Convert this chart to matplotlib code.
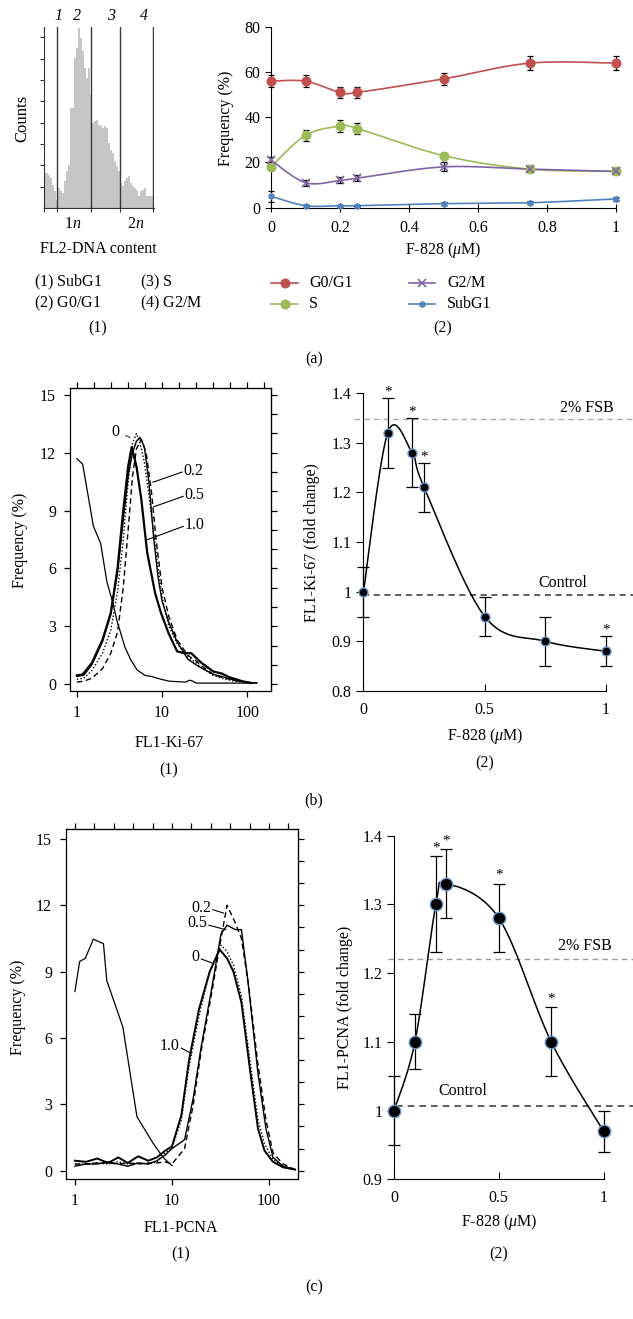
import numpy as np
import matplotlib
matplotlib.use("Agg")
import matplotlib.pyplot as plt
from matplotlib.lines import Line2D

plt.rcParams['font.family'] = ['Liberation Serif', 'DejaVu Serif']
plt.rcParams['mathtext.fontset'] = 'custom'
plt.rcParams['mathtext.rm'] = 'Liberation Serif'
plt.rcParams['mathtext.it'] = 'Liberation Serif:italic'
plt.rcParams['font.size'] = 11.5

# ---------------- data ----------------
# (a)(1) DNA histogram (bin counts, arbitrary units)
hist_counts = [104, 104, 100, 90, 70, 50, 25, 60, 50, 45, 80, 110, 130, 300, 300, 450,
               480, 540, 510, 470, 420, 390, 420, 340, 255, 260, 265, 250, 245, 240,
               245, 240, 195, 175, 165, 140, 125, 110, 75, 65, 80, 90, 95, 75, 65, 60,
               55, 35, 50, 55, 60, 35, 35, 35, 35]
gate_edges = [6.33, 23.3, 38.0, 54.7]
gate_names = ['1', '2', '3', '4']

# (a)(2) cell cycle distribution
conc = [0, 0.1, 0.2, 0.25, 0.5, 0.75, 1.0]
g0g1 = [56, 56, 51, 51, 57, 64, 64]
g0g1_err = [2.8, 2.7, 2.6, 2.6, 2.8, 3.0, 3.0]
s_phase = [18, 32, 36, 35, 23, 17, 16]
s_err = [1.5, 2.4, 2.6, 2.5, 1.0, 1.0, 1.0]
g2m = [21, 11, 12, 13, 18, 17, 16]
g2m_err = [1.5, 1.4, 1.3, 1.3, 2.0, 1.0, 1.0]
subg1 = [5, 0.8, 0.8, 0.8, 1.7, 2.1, 3.8]
subg1_err = [2.5, 0.4, 0.4, 0.3, 0.6, 0.7, 1.0]

# (b)(1) Ki-67 histograms
ki_bg_x = [1, 1.17, 1.56, 1.9, 2.25, 2.65, 2.95, 3.67, 4.3, 5.1, 6.3, 7.4, 9.7, 12.1, 18.9, 21, 23, 25, 40, 60, 90, 120]
ki_bg_y = [11.7, 11.4, 8.2, 7.3, 5.3, 4.2, 3.3, 1.9, 1.25, 0.73, 0.45, 0.4, 0.25, 0.15, 0.1, 0.2, 0.15, 0.05, 0.05, 0.05, 0.05, 0.05]
ki_10_x = [1, 1.17, 1.5, 2.0, 2.5, 3.0, 3.5, 4.0, 4.4, 5.0, 5.7, 6.7, 8.3, 9.7, 12, 15, 18, 22, 29, 40, 50, 62, 87, 110]
ki_10_y = [0.45, 0.5, 1.1, 2.3, 3.7, 6.0, 9.0, 11.3, 12.3, 11.3, 9.6, 6.8, 4.7, 3.7, 2.6, 1.7, 1.6, 1.6, 1.1, 0.65, 0.55, 0.35, 0.15, 0.05]
ki_05_x = [1, 1.2, 1.5, 2, 2.5, 3, 3.5, 4, 4.5, 5, 5.5, 6.2, 7, 8, 9, 10, 12, 15, 20, 25, 30, 40, 50, 70, 100, 130]
ki_05_y = [0.4, 0.45, 1.0, 2.2, 3.6, 5.8, 8.5, 10.8, 12.0, 12.6, 12.8, 12.3, 10.5, 7.5, 5.5, 4.3, 3.2, 2.2, 1.3, 1.0, 0.8, 0.5, 0.4, 0.2, 0.1, 0.05]
ki_00_x = [1, 1.2, 1.5, 2, 2.5, 3, 3.5, 4, 4.5, 5, 5.5, 6.2, 7, 8, 9, 10, 12, 15, 20, 25, 30, 40, 50, 70, 100, 130]
ki_00_y = [0.25, 0.3, 0.7, 1.6, 2.8, 4.8, 7.5, 10.5, 12.5, 13.0, 12.5, 11.5, 9.8, 7.8, 6.0, 4.5, 3.0, 2.1, 1.4, 1.1, 0.8, 0.45, 0.3, 0.15, 0.08, 0.05]
ki_02_x = [1, 1.2, 1.5, 2, 2.5, 3, 3.5, 4, 4.5, 5, 5.7, 6.5, 7.5, 8.5, 10, 12, 15, 20, 25, 30, 40, 50, 70, 100, 130]
ki_02_y = [0.1, 0.15, 0.3, 0.8, 1.6, 2.7, 5.0, 8.0, 10.8, 12.2, 12.7, 12.0, 10.0, 7.5, 5.0, 3.5, 2.3, 1.5, 1.2, 0.9, 0.5, 0.35, 0.2, 0.1, 0.05]

# (b)(2) Ki-67 fold change
ki_fold = [1.0, 1.32, 1.28, 1.21, 0.95, 0.90, 0.88]
ki_fold_err = [0.05, 0.07, 0.07, 0.05, 0.04, 0.05, 0.03]
ki_sig = [False, True, True, True, False, False, True]
ki_fsb = 1.348
ki_ctrl = 0.993

# (c)(1) PCNA histograms
pc_bg_x = [1, 1.12, 1.28, 1.55, 1.97, 2.13, 3.12, 4.36, 6.4, 8.1, 10]
pc_bg_y = [8.1, 9.46, 9.6, 10.47, 10.26, 8.6, 6.5, 2.44, 1.24, 0.6, 0.23]
pc_10_x = [1, 1.3, 1.7, 2.2, 2.8, 3.5, 4.5, 5.7, 7, 8.5, 10, 12.5, 15, 19, 24.5, 31, 37, 43, 52, 64, 77, 90, 110, 140, 185]
pc_10_y = [0.45, 0.4, 0.55, 0.35, 0.6, 0.35, 0.65, 0.45, 0.6, 0.9, 1.1, 2.5, 5.0, 7.3, 9.0, 10.0, 9.6, 9.0, 7.6, 4.5, 1.9, 0.9, 0.4, 0.15, 0.05]
pc_00_x = [1, 1.3, 1.7, 2.2, 2.8, 3.5, 4.5, 5.7, 7, 8.5, 10, 12.5, 15, 19, 24.5, 32, 37, 43, 52, 64, 77, 90, 110, 140, 185]
pc_00_y = [0.3, 0.3, 0.35, 0.3, 0.4, 0.3, 0.35, 0.3, 0.4, 0.8, 1.0, 2.3, 4.7, 7.0, 9.0, 10.2, 9.9, 9.3, 7.9, 4.9, 2.3, 1.2, 0.5, 0.2, 0.05]
pc_05_x = [1, 1.3, 1.7, 2.2, 2.8, 3.5, 4.5, 5.7, 7, 8.5, 10, 13.5, 16.6, 20, 25.6, 32, 37, 45, 52, 60.6, 77, 93, 110, 140, 185]
pc_05_y = [0.2, 0.3, 0.3, 0.4, 0.3, 0.2, 0.35, 0.3, 0.45, 0.7, 1.0, 1.4, 3.3, 5.6, 8.2, 10.7, 11.1, 10.9, 10.9, 8.6, 4.4, 1.9, 0.6, 0.2, 0.05]
pc_02_x = [1, 1.3, 1.7, 2.2, 2.8, 3.5, 4.5, 5.7, 7, 8.5, 10, 13.5, 16.6, 20, 25.6, 32, 37, 45, 52, 62, 77, 93, 110, 140, 185]
pc_02_y = [0.3, 0.3, 0.35, 0.35, 0.3, 0.35, 0.3, 0.35, 0.35, 0.4, 0.3, 1.0, 3.0, 5.4, 8.0, 10.5, 12.0, 11.2, 10.5, 8.3, 4.8, 2.3, 0.8, 0.3, 0.05]

# (c)(2) PCNA fold change
pc_fold = [1.0, 1.1, 1.3, 1.33, 1.28, 1.1, 0.97]
pc_fold_err = [0.05, 0.04, 0.07, 0.05, 0.05, 0.05, 0.03]
pc_sig = [False, False, True, True, True, True, False]
pc_fsb = 1.22
pc_ctrl = 1.007

# ---------------- helpers ----------------
W, H = 633, 1319
fig = plt.figure(figsize=(W / 100, H / 100), dpi=100)


def axes_px(l, r, t, b):
    return fig.add_axes([l / W, 1 - b / H, (r - l) / W, (b - t) / H])


def ftext(x, y, s, **kw):
    kw.setdefault('ha', 'center')
    kw.setdefault('va', 'center')
    fig.text(x / W, 1 - y / H, s, **kw)


def smooth(x, y, n=30):
    P = np.column_stack([x, y]).astype(float)
    P = np.vstack([P[0], P, P[-1]])
    out = []
    t = np.linspace(0, 1, n)[:, None]
    for i in range(1, len(P) - 2):
        p0, p1, p2, p3 = P[i - 1], P[i], P[i + 1], P[i + 2]
        seg = 0.5 * ((2 * p1) + (-p0 + p2) * t + (2 * p0 - 5 * p1 + 4 * p2 - p3) * t ** 2
                     + (-p0 + 3 * p1 - 3 * p2 + p3) * t ** 3)
        out.append(seg if i == 1 else seg[1:])
    out = np.vstack(out)
    return out[:, 0], out[:, 1]


# ================= (a)(1) histogram =================
axh = axes_px(44, 154, 27, 208)
bins = np.arange(len(hist_counts))
axh.bar(bins + 0.5, hist_counts, width=1.0, color='#c6c6c6', edgecolor='none')
for g in gate_edges:
    axh.axvline(g, color='#3a3a3a', lw=1.0)
axh.set_xlim(0, 55)
axh.set_ylim(0, 543)
for sp in ['top', 'right']:
    axh.spines[sp].set_visible(False)
axh.spines['left'].set_color('#333333')
axh.spines['bottom'].set_color('#333333')
axh.set_yticks(np.arange(64, 543, 64))
axh.set_yticklabels([])
axh.tick_params(axis='y', direction='out', length=3, color='#333333')
axh.set_xticks([0] + gate_edges)
axh.set_xticklabels([])
axh.tick_params(axis='x', direction='inout', length=6, color='#333333')
for lab, px in zip(gate_names, [58, 77, 111, 144]):
    ftext(px, 16, lab, style='italic')
ftext(22, 118, 'Counts', rotation=90, fontsize=12)
ftext(73, 224, r'1$n$')
ftext(136, 224, r'2$n$')
ftext(98, 249, 'FL2-DNA content')
ftext(34, 282, r'($\mathit{1}$) SubG1', ha='left')
ftext(140, 282, r'($\mathit{3}$) S', ha='left')
ftext(34, 303, r'($\mathit{2}$) G0/G1', ha='left')
ftext(140, 303, r'($\mathit{4}$) G2/M', ha='left')
ftext(98, 328, '(1)')

# ================= (a)(2) cell cycle =================
axa = axes_px(271, 616, 27, 207.5)
series = [
    ('G0/G1', g0g1, g0g1_err, '#c0504d', 'o', 6.0, 1.0),
    ('S', s_phase, s_err, '#9bbb59', 'o', 6.0, 1.0),
    ('G2/M', g2m, g2m_err, '#8064a2', 'x', 5.5, 1.0),
    ('SubG1', subg1, subg1_err, '#4f81bd', (6, 2, 0), 4.5, 1.0),
]
for name, vals, err, col, mk, ms, mew in series:
    sx, sy = smooth(conc, vals)
    axa.plot(sx, sy, color=col, lw=1.2, clip_on=False, zorder=2)
    axa.errorbar(conc, vals, yerr=err, fmt='none', ecolor='black', elinewidth=0.9,
                 capsize=2.5, capthick=0.9, clip_on=False, zorder=3)
    axa.plot(conc, vals, linestyle='none', marker=mk, ms=ms, color=col,
             mec=col, mew=1.2, clip_on=False, zorder=4)
axa.set_xlim(0, 1)
axa.set_ylim(0, 80)
for sp in ['top', 'right']:
    axa.spines[sp].set_visible(False)
axa.set_xticks([0, 0.2, 0.4, 0.6, 0.8, 1.0])
axa.set_xticklabels(['0', '0.2', '0.4', '0.6', '0.8', '1'])
axa.set_yticks([0, 20, 40, 60, 80])
axa.tick_params(axis='x', direction='inout', length=6, pad=6)
axa.tick_params(axis='y', direction='out', length=4)
ftext(226, 118, 'Frequency (%)', rotation=90)
ftext(443, 250, r'F-828 ($\mu$M)')
ftext(443, 328, '(2)')
leg_pos = [(271, 298, 283, 309), (271, 298, 304, 309), (409, 435, 283, 447), (409, 435, 304, 447)]
for (name, vals, err, col, mk, ms, mew), (x1, x2, yy, xt) in zip(series, leg_pos):
    fig.add_artist(Line2D([x1 / W, x2 / W], [1 - yy / H, 1 - yy / H], color=col, lw=1.2,
                          transform=fig.transFigure))
    fig.add_artist(Line2D([(x1 + x2) / 2 / W], [1 - yy / H], color=col, marker=mk, ms=ms,
                          mew=1.2, linestyle='none', transform=fig.transFigure))
    ftext(xt, yy, name, ha='left')
ftext(314, 359, '(a)')


# ================= histogram panels (b1, c1) =================
def hist_panel(ax, xlim, ylim):
    ax.set_xscale('log')
    ax.set_xlim(*xlim)
    ax.set_ylim(*ylim)
    ax.set_xticks([1, 10, 100])
    ax.set_xticklabels(['1', '10', '100'])
    ax.xaxis.set_minor_locator(matplotlib.ticker.NullLocator())
    ax.set_yticks([0, 3, 6, 9, 12, 15])
    ax.tick_params(axis='both', direction='out', length=4, width=0.9, pad=6)
    sx = ax.secondary_xaxis('top')
    sx.set_xticks(10 ** np.arange(0, 2.3, 0.2))
    sx.set_xticklabels([])
    sx.tick_params(direction='out', length=4, width=0.9)
    sx.xaxis.set_minor_locator(matplotlib.ticker.NullLocator())
    sy = ax.secondary_yaxis('right')
    sy.set_yticks(np.arange(0, 16, 1))
    sy.set_yticklabels([])
    sy.tick_params(direction='out', length=4, width=0.9)
    for sp in ax.spines.values():
        sp.set_linewidth(0.9)


axb1 = axes_px(70, 271, 388, 691)
hist_panel(axb1, (0.83, 190), (-0.36, 15.36))
axb1.plot(ki_bg_x, ki_bg_y, color='black', lw=0.9)
axb1.plot(ki_00_x, ki_00_y, color='black', lw=1.0, linestyle=(0, (1, 1.5)))
axb1.plot(ki_02_x, ki_02_y, color='black', lw=1.0, linestyle=(0, (4, 2.5)))
axb1.plot(ki_05_x, ki_05_y, color='black', lw=1.0)
axb1.plot(ki_10_x, ki_10_y, color='black', lw=1.6)
axb1.annotate('0', xy=(4.2, 12.8), xytext=(2.8, 13.1), ha='center', va='center',
              arrowprops=dict(arrowstyle='-', lw=0.7, linestyle=(0, (2, 1)), shrinkA=3, shrinkB=0))
for lab, (xa, ya), (xt, yt) in [('0.2', (7.8, 10.47), (17.2, 11.0)),
                                ('0.5', (8.0, 9.2), (17.7, 9.74)),
                                ('1.0', (6.8, 7.5), (17.7, 8.18))]:
    axb1.plot([xa, xt], [ya, yt], color='black', lw=0.8)
    axb1.text(xt * 1.04, yt + 0.05, lab, ha='left', va='center')
ftext(20, 540, 'Frequency (%)', rotation=90)
ftext(169, 743, 'FL1-Ki-67')
ftext(169, 770, '(1)')


# ================= fold change panels (b2, c2) =================
def fold_panel(ax, vals, err, sig, fsb, ctrl, ylim, yticks, ylabs, ms, ast_off):
    sx, sy = smooth(conc, vals)
    ax.plot(sx, sy, color='black', lw=1.1, zorder=2, clip_on=False)
    ax.errorbar(conc, vals, yerr=err, fmt='none', ecolor='black', elinewidth=0.9,
                capsize=4, capthick=0.9, zorder=3, clip_on=False)
    ax.plot(conc, vals, linestyle='none', marker='o', ms=ms, mfc='black', mec='#6b9bd1',
            mew=1.0, zorder=4, clip_on=False)
    for xv, v, e, s in zip(conc, vals, err, sig):
        if s:
            ax.text(xv, v + e + ast_off, '*', ha='center', va='center', fontsize=11)
    ax.set_xlim(0, 1)
    ax.set_ylim(*ylim)
    for sp in ['top', 'right']:
        ax.spines[sp].set_visible(False)
    ax.set_xticks([0, 0.5, 1])
    ax.set_xticklabels(['0', '0.5', '1'])
    ax.set_yticks(yticks)
    ax.set_yticklabels(ylabs)
    ax.tick_params(axis='x', direction='in', length=5, pad=8)
    ax.tick_params(axis='y', direction='out', length=5)
    return fsb, ctrl


axb2 = axes_px(363.5, 606, 393, 691)
fold_panel(axb2, ki_fold, ki_fold_err, ki_sig, ki_fsb, ki_ctrl, (0.8, 1.4),
           [0.8, 0.9, 1.0, 1.1, 1.2, 1.3, 1.4], ['0.8', '0.9', '1', '1.1', '1.2', '1.3', '1.4'],
           6.5, 0.012)
axb2.plot([-0.04, 1.12], [ki_fsb, ki_fsb], color='#aaaaaa', lw=1.0, linestyle=(0, (4, 3)),
          clip_on=False, zorder=1)
axb2.plot([0, 1.12], [ki_ctrl, ki_ctrl], color='#333333', lw=1.1, linestyle=(0, (4, 3)),
          clip_on=False, zorder=1)
axb2.text(0.92, 1.37, '2% FSB', ha='center', va='center')
axb2.text(0.82, 1.018, 'Control', ha='center', va='center')
ftext(312, 543, 'FL1-Ki-67 (fold change)', rotation=90)
ftext(485, 736, r'F-828 ($\mu$M)')
ftext(485, 763, '(2)')
ftext(314, 800, '(b)')

# ================= (c)(1) PCNA histograms =================
axc1 = axes_px(66, 298, 829, 1179.3)
hist_panel(axc1, (0.81, 199), (-0.39, 15.45))
axc1.plot(pc_bg_x, pc_bg_y, color='black', lw=0.9)
axc1.plot(pc_00_x, pc_00_y, color='black', lw=1.0, linestyle=(0, (1, 1.5)))
axc1.plot(pc_02_x, pc_02_y, color='black', lw=1.0, linestyle=(0, (4, 2.5)))
axc1.plot(pc_05_x, pc_05_y, color='black', lw=1.0)
axc1.plot(pc_10_x, pc_10_y, color='black', lw=1.4)
for lab, (xa, ya), (xt, yt) in [('0.2', (34, 11.65), (26.4, 11.8)),
                                ('0.5', (35.8, 10.9), (24, 11.1)),
                                ('0', (25.6, 9.4), (20.1, 9.57)),
                                ('1.0', (15.9, 5.3), (12.5, 5.54))]:
    axc1.plot([xa, xt], [ya, yt], color='black', lw=0.8)
    axc1.text(xt / 1.05, yt + 0.1, lab, ha='right', va='center')
ftext(18, 1007, 'Frequency (%)', rotation=90)
ftext(181, 1228, 'FL1-PCNA')
ftext(181, 1254, '(1)')

# ================= (c)(2) PCNA fold change =================
axc2 = axes_px(394, 603.6, 835.6, 1179.3)
fold_panel(axc2, pc_fold, pc_fold_err, pc_sig, pc_fsb, pc_ctrl, (0.9, 1.4),
           [0.9, 1.0, 1.1, 1.2, 1.3, 1.4], ['0.9', '1', '1.1', '1.2', '1.3', '1.4'],
           9.0, 0.012)
axc2.plot([-0.03, 1.14], [pc_fsb, pc_fsb], color='#999999', lw=1.0, linestyle=(0, (4, 3)),
          clip_on=False, zorder=1)
axc2.plot([0.01, 1.14], [pc_ctrl, pc_ctrl], color='#444444', lw=1.2, linestyle=(0, (4, 3)),
          clip_on=False, zorder=1)
axc2.text(0.91, 1.24, '2% FSB', ha='center', va='center')
axc2.text(0.33, 1.029, 'Control', ha='center', va='center')
ftext(345, 1007, 'FL1-PCNA (fold change)', rotation=90)
ftext(499, 1222, r'F-828 ($\mu$M)')
ftext(499, 1254, '(2)')
ftext(314, 1287, '(c)')

fig.savefig('out.png', dpi=100)
